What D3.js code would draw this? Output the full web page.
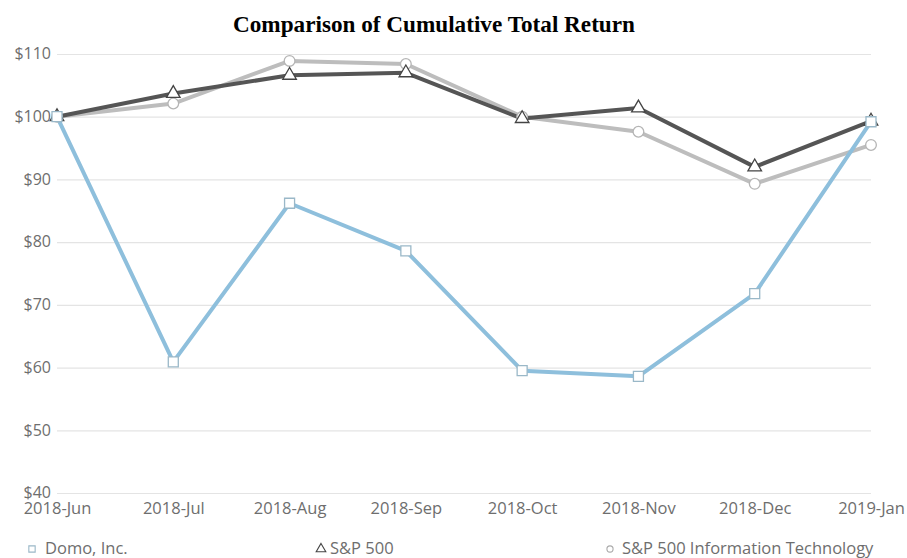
<!DOCTYPE html>
<html><head><meta charset="utf-8">
<script src="https://cdn.jsdelivr.net/npm/d3@7"></script>
<style>body{margin:0;background:#fff}svg{display:block}</style>
</head><body><svg id="c" width="907" height="558"></svg>
<script>
const months = ["2018-Jun","2018-Jul","2018-Aug","2018-Sep","2018-Oct","2018-Nov","2018-Dec","2019-Jan"];
const domo = [100, 60.9, 86.2, 78.6, 59.5, 58.6, 71.8, 99.2];
const sp500 = [100, 103.7, 106.6, 107.0, 99.7, 101.4, 92.0, 99.3];
const spIT = [100, 102.1, 108.9, 108.4, 100.0, 97.6, 89.3, 95.5];
const yTicks = [40,50,60,70,80,90,100,110];
const seriesNames = ["Domo, Inc.","S&P 500","S&P 500 Information Technology"];

const svg = d3.select("#c");
const x = d3.scalePoint().domain(months).range([57, 871]);
const y = d3.scaleLinear().domain([40,110]).range([493, 54]);
const font = "'Open Sans', sans-serif";

svg.append("text").attr("x",434).attr("y",32).attr("text-anchor","middle")
  .attr("font-family","'Liberation Serif', 'Times New Roman', serif").attr("font-weight","bold")
  .attr("font-size",23.2).attr("fill","#000").text("Comparison of Cumulative Total Return");

// grid
const yAxis = svg.append("g").attr("transform","translate(57,0)")
  .call(d3.axisLeft(y).tickValues(yTicks).tickSize(-814).tickPadding(4).tickFormat(d=>"$"+d));
yAxis.select(".domain").remove();
yAxis.selectAll(".tick line").attr("stroke","#e4e4e4").attr("stroke-width",1.2);
yAxis.selectAll(".tick text").attr("font-family",font).attr("font-size",16).attr("fill","#6e6e6e").attr("dy","0.3em").attr("x",-6);

const xAxis = svg.append("g").attr("transform","translate(0,493)")
  .call(d3.axisBottom(x).tickSize(0).tickPadding(9));
xAxis.select(".domain").remove();
xAxis.selectAll(".tick text").attr("font-family",font).attr("font-size",16.5).attr("fill","#6e6e6e");

const line = d3.line().x((d,i)=>x(months[i])).y(d=>y(d));
const series = [
  {vals: spIT, color:"#bdbdbd", mk:"circle", mkStroke:"#b5b5b5"},
  {vals: sp500, color:"#555555", mk:"triangle", mkStroke:"#444"},
  {vals: domo, color:"#8ebfdc", mk:"square", mkStroke:"#9ab8c8"}
];
series.forEach(s=>{
  svg.append("path").datum(s.vals).attr("d",line).attr("fill","none")
    .attr("stroke",s.color).attr("stroke-width",4).attr("stroke-linejoin","round");
});
const symType = {circle:d3.symbolCircle, triangle:d3.symbolTriangle, square:d3.symbolSquare};
const symSize = {circle:90, triangle:80, square:100};
series.forEach(s=>{
  svg.append("g").selectAll("path").data(s.vals).join("path")
    .attr("transform",(d,i)=>`translate(${x(months[i])},${y(d)})`)
    .attr("d",d3.symbol().type(symType[s.mk]).size(symSize[s.mk]))
    .attr("fill","#fff").attr("stroke",s.mkStroke).attr("stroke-width",1.3);
});

// legend
const legend = [
  {name:seriesNames[0], x:32, tx:45, mk:"square", stroke:"#9ab8c8"},
  {name:seriesNames[1], x:321, tx:330, mk:"triangle", stroke:"#444"},
  {name:seriesNames[2], x:610, tx:622, mk:"circle", stroke:"#aaa"}
];
const lg = svg.append("g");
legend.forEach(l=>{
  lg.append("path").attr("transform",`translate(${l.x},${549})`)
    .attr("d",d3.symbol().type(symType[l.mk]).size(l.mk==="circle"?30:40))
    .attr("fill","#fff").attr("stroke",l.stroke).attr("stroke-width",1.1);
  lg.append("text").attr("x",l.tx).attr("y",554).attr("font-family",font)
    .attr("font-size",16.5).attr("fill","#6e6e6e").text(l.name);
});
</script></body></html>
